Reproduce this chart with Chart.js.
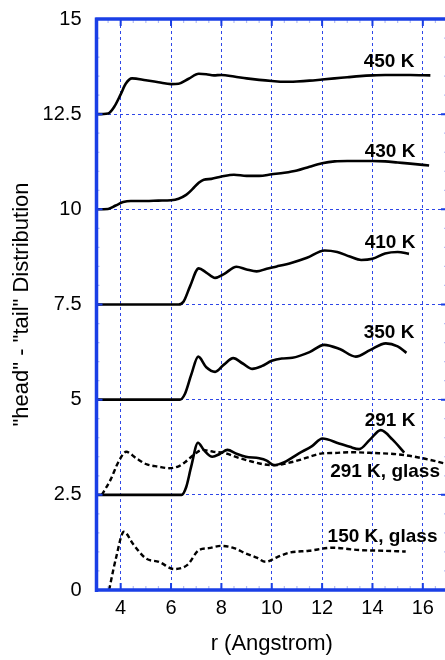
<!DOCTYPE html>
<html><head><meta charset="utf-8">
<script src="https://cdn.jsdelivr.net/npm/chart.js@4.4.1/dist/chart.umd.min.js"></script>
<style>html,body{margin:0;padding:0;background:#fff;overflow:hidden;width:445px;height:660px}canvas{display:block}</style>
</head><body>
<canvas id="c" width="448" height="660" style="width:448px;height:660px"></canvas>
<script>
// ---- data ----
const xTicks = [4, 6, 8, 10, 12, 14, 16];
const yTicks = [0, 2.5, 5, 7.5, 10, 12.5, 15];
const yTickLabels = ["0", "2.5", "5", "7.5", "10", "12.5", "15"];

const r450 = [3.0, 3.5, 3.75, 4.0, 4.2, 4.45, 5.0, 5.5, 6.0, 6.3, 6.7, 7.1, 7.4, 7.7, 8.0, 8.5, 9.0, 9.5, 10.0, 10.5, 11.0, 11.5, 12.0, 12.5, 13.0, 13.5, 14.0, 14.5, 15.0, 15.5, 16.3];
const v450 = [12.5, 12.52, 12.7, 13.02, 13.3, 13.44, 13.39, 13.34, 13.29, 13.3, 13.43, 13.56, 13.55, 13.52, 13.53, 13.49, 13.44, 13.40, 13.37, 13.35, 13.36, 13.38, 13.41, 13.44, 13.47, 13.50, 13.52, 13.53, 13.53, 13.53, 13.52];

const r430 = [3.0, 3.5, 3.8, 4.1, 4.4, 5.0, 5.5, 6.0, 6.3, 6.6, 6.85, 7.1, 7.3, 7.6, 8.0, 8.5, 9.0, 9.5, 10.0, 10.5, 11.0, 11.5, 12.0, 12.5, 13.0, 13.5, 14.0, 14.5, 15.0, 15.5, 16.25];
const v430 = [10.0, 10.01, 10.1, 10.19, 10.22, 10.22, 10.23, 10.24, 10.28, 10.38, 10.53, 10.7, 10.78, 10.8, 10.86, 10.91, 10.88, 10.88, 10.92, 10.96, 11.02, 11.12, 11.21, 11.26, 11.27, 11.27, 11.27, 11.26, 11.23, 11.2, 11.15];

const r410 = [3.0, 6.3, 6.5, 6.75, 7.1, 7.4, 7.75, 8.1, 8.6, 9.0, 9.4, 9.8, 10.2, 10.8, 11.4, 12.1, 12.6, 13.1, 13.55, 14.0, 14.5, 15.0, 15.45];
const v410 = [7.5, 7.5, 7.58, 7.97, 8.45, 8.34, 8.2, 8.3, 8.49, 8.42, 8.37, 8.44, 8.5, 8.6, 8.73, 8.92, 8.88, 8.76, 8.67, 8.7, 8.84, 8.88, 8.83];

const r350 = [3.0, 6.35, 6.55, 6.8, 7.08, 7.4, 7.75, 8.1, 8.47, 8.85, 9.23, 9.6, 10.0, 10.4, 10.82, 11.5, 12.08, 12.7, 13.34, 13.9, 14.53, 15.0, 15.35];
const v350 = [5.0, 5.0, 5.15, 5.65, 6.13, 5.85, 5.73, 5.92, 6.09, 5.95, 5.81, 5.88, 6.02, 6.08, 6.10, 6.25, 6.44, 6.33, 6.13, 6.3, 6.48, 6.4, 6.23];

const r291 = [3.0, 6.42, 6.6, 6.8, 7.07, 7.3, 7.64, 7.95, 8.24, 8.6, 8.97, 9.5, 9.8, 10.09, 10.5, 11.08, 11.6, 12.01, 12.67, 13.1, 13.47, 13.9, 14.33, 14.8, 15.26];
const v291 = [2.5, 2.5, 2.7, 3.24, 3.87, 3.68, 3.50, 3.58, 3.68, 3.58, 3.50, 3.46, 3.4, 3.28, 3.36, 3.59, 3.78, 3.98, 3.85, 3.76, 3.70, 3.95, 4.20, 3.95, 3.61];

const r291g = [3.25, 3.6, 3.9, 4.22, 4.6, 5.0, 5.5, 5.92, 6.3, 6.58, 6.9, 7.24, 7.7, 8.17, 8.7, 9.23, 9.7, 10.16, 10.6, 11.08, 11.5, 12.01, 12.5, 13.07, 14.0, 15.06, 16.0, 16.9];
const v291g = [2.5, 2.9, 3.35, 3.63, 3.47, 3.31, 3.24, 3.20, 3.25, 3.37, 3.55, 3.68, 3.63, 3.59, 3.47, 3.37, 3.3, 3.28, 3.33, 3.41, 3.5, 3.59, 3.6, 3.62, 3.6, 3.56, 3.46, 3.32];

const r150 = [3.54, 3.8, 4.13, 4.5, 5.0, 5.52, 6.12, 6.65, 7.11, 7.5, 7.97, 8.5, 8.97, 9.4, 9.76, 10.2, 10.69, 11.48, 12.41, 13.47, 14.5, 15.32];
const v150 = [0.0, 0.8, 1.53, 1.2, 0.83, 0.74, 0.55, 0.66, 1.05, 1.1, 1.16, 1.1, 0.96, 0.85, 0.74, 0.86, 0.98, 1.03, 1.11, 1.05, 1.03, 1.01];

const seriesNames = ["450 K", "430 K", "410 K", "350 K", "291 K", "291 K, glass", "150 K, glass"];
const labelX = [14.66, 14.70, 14.70, 14.66, 14.70, 14.50, 14.40];
const labelY = [13.88, 11.51, 9.13, 6.75, 4.45, 3.11, 1.40];

// ---- chart ----
const AXIS = '#1a3fe6';
const GRID = 'rgba(35,60,230,0.95)';
const FONT = '"Liberation Sans", Arial, Helvetica, sans-serif';
const pts = (xs, ys) => xs.map((x, i) => ({x, y: ys[i]}));
const solid = (name, xs, ys) => ({label: name, data: pts(xs, ys), borderColor: '#000', borderWidth: 2.6, pointRadius: 0, fill: false, cubicInterpolationMode: 'monotone'});
const dashed = (name, xs, ys) => Object.assign(solid(name, xs, ys), {borderDash: [5, 3], borderWidth: 2.4});
const noPad = s => { s.paddingTop = 0; s.paddingBottom = 0; s.paddingLeft = 0; s.paddingRight = 0; };

const frame = {
  id: 'frame',
  afterDatasetsDraw(chart) {
    const {ctx, chartArea: a, scales: {x, y}} = chart;
    ctx.save();
    // minor ticks
    ctx.strokeStyle = 'rgba(40,70,230,0.35)';
    ctx.lineWidth = 1.2;
    ctx.beginPath();
    for (let v = 3.5; v < 17; v += 0.5) {
      const px = x.getPixelForValue(v);
      ctx.moveTo(px, a.bottom); ctx.lineTo(px, a.bottom - 4);
      ctx.moveTo(px, a.top); ctx.lineTo(px, a.top + 4);
    }
    for (let v = 0.5; v < 15; v += 0.5) {
      const py = y.getPixelForValue(v);
      ctx.moveTo(a.left, py); ctx.lineTo(a.left + 4, py);
      ctx.moveTo(a.right, py); ctx.lineTo(a.right - 4, py);
    }
    ctx.stroke();
    // major ticks
    ctx.strokeStyle = AXIS;
    ctx.lineWidth = 2;
    ctx.beginPath();
    xTicks.forEach(v => {
      const px = x.getPixelForValue(v);
      ctx.moveTo(px, a.bottom); ctx.lineTo(px, a.bottom - 7);
      ctx.moveTo(px, a.top); ctx.lineTo(px, a.top + 7);
    });
    yTicks.forEach(v => {
      const py = y.getPixelForValue(v);
      ctx.moveTo(a.left, py); ctx.lineTo(a.left + 7, py);
      ctx.moveTo(a.right, py); ctx.lineTo(a.right - 7, py);
    });
    ctx.stroke();
    // axis frame
    ctx.lineWidth = 3.5;
    ctx.beginPath();
    ctx.moveTo(a.left + 1, a.bottom + 2); ctx.lineTo(a.left + 1, a.top - 1.5);
    ctx.moveTo(a.left, a.top); ctx.lineTo(a.right + 2, a.top);
    ctx.moveTo(a.left, a.bottom); ctx.lineTo(a.right + 2, a.bottom);
    ctx.stroke();
    // series labels
    ctx.fillStyle = '#000';
    ctx.font = 'bold 19px ' + FONT;
    ctx.textAlign = 'center';
    ctx.textBaseline = 'middle';
    seriesNames.forEach((n, i) => ctx.fillText(n, x.getPixelForValue(labelX[i]), y.getPixelForValue(labelY[i])));
    ctx.restore();
  }
};

new Chart(document.getElementById('c'), {
  type: 'line',
  data: {
    datasets: [
      solid(seriesNames[0], r450, v450),
      solid(seriesNames[1], r430, v430),
      solid(seriesNames[2], r410, v410),
      solid(seriesNames[3], r350, v350),
      solid(seriesNames[4], r291, v291),
      dashed(seriesNames[5], r291g, v291g),
      dashed(seriesNames[6], r150, v150)
    ]
  },
  options: {
    responsive: false,
    animation: false,
    devicePixelRatio: 1,
    layout: {padding: {top: 19, right: 0, left: 0, bottom: 0}},
    plugins: {legend: {display: false}, tooltip: {enabled: false}},
    scales: {
      x: {
        type: 'linear', min: 3, max: 17,
        afterBuildTicks: s => { s.ticks = xTicks.map(v => ({value: v})); },
        afterFit: s => { s.height = 70; noPad(s); },
        grid: {color: GRID, lineWidth: 1, drawTicks: false},
        border: {display: false, dash: [3, 3]},
        ticks: {color: '#000', font: {family: FONT, size: 20}, padding: 6, maxRotation: 0, callback: v => String(v)},
        title: {display: true, text: 'r (Angstrom)', color: '#000', font: {family: FONT, size: 22}, padding: {top: 0, bottom: 3}}
      },
      y: {
        type: 'linear', min: 0, max: 15,
        afterBuildTicks: s => { s.ticks = yTicks.map(v => ({value: v})); },
        afterFit: s => { s.width = 95.5; noPad(s); },
        grid: {color: GRID, lineWidth: 1, drawTicks: false},
        border: {display: false, dash: [3, 3]},
        ticks: {color: '#000', font: {family: FONT, size: 20}, padding: 14, callback: (v) => yTickLabels[yTicks.indexOf(v)]},
        title: {display: true, text: '"head" - "tail" Distribution', color: '#000', font: {family: FONT, size: 22}, padding: {top: 9, bottom: 0}}
      }
    }
  },
  plugins: [frame]
});
</script>
</body></html>
